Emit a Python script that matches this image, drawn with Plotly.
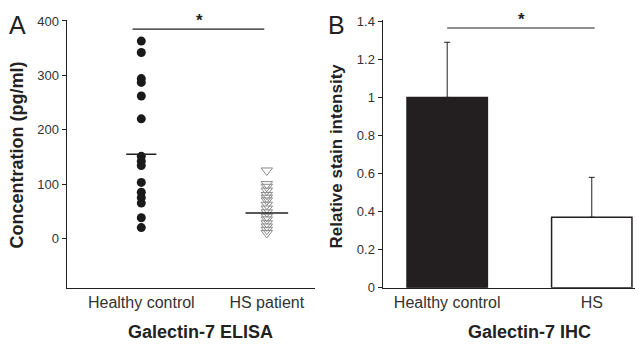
import plotly.graph_objects as go

# ---------------- data ----------------
elisa_groups = ["Healthy control", "HS patient"]
healthy_conc = [363, 342, 294, 287, 262, 220, 151, 142, 134, 103, 85, 75, 65, 38, 20]
hs_conc = [125, 100, 95, 88, 80, 75, 70, 62, 55, 48, 40, 35, 28, 22, 16, 10]
elisa_center_lines = [155, 47]

ihc_groups = ["Healthy control", "HS"]
ihc_values = [1.0, 0.37]
ihc_errors = [0.29, 0.21]

elisa_ticks = [0, 100, 200, 300, 400]
ihc_ticks = [0, 0.2, 0.4, 0.6, 0.8, 1.0, 1.2, 1.4]

W, H = 639, 356
def px(x): return x / W
def py(y): return 1 - y / H

FONT = "Liberation Sans, Arial, sans-serif"
AX = "#231f20"
TXT = "#333333"

fig = go.Figure()

# Panel A scatter
fig.add_trace(go.Scatter(
    x=[elisa_groups[0]] * len(healthy_conc), y=healthy_conc, mode="markers",
    marker=dict(symbol="circle", size=9, color="#1a1a1a", line=dict(width=0)),
    xaxis="x", yaxis="y", showlegend=False))
fig.add_trace(go.Scatter(
    x=[elisa_groups[1]] * len(hs_conc), y=hs_conc, mode="markers",
    marker=dict(symbol="triangle-down-open", size=10, color="#8a8a8a", line=dict(width=1)),
    xaxis="x", yaxis="y", showlegend=False))

# center lines
half = [0.12, 0.17]
for i, v in enumerate(elisa_center_lines):
    fig.add_shape(type="line", xref="x", yref="y", x0=i - half[i], x1=i + half[i],
                  y0=v, y1=v, line=dict(color=AX, width=1.5))

# Panel B bars
fig.add_trace(go.Bar(
    x=ihc_groups, y=ihc_values, width=0.556,
    marker=dict(color=["#231f20", "#ffffff"], line=dict(color=AX, width=1.5)),
    error_y=dict(type="data", array=ihc_errors, arrayminus=[0, 0], symmetric=False,
                 color=AX, thickness=1, width=3),
    xaxis="x2", yaxis="y2", showlegend=False))

# significance bars
fig.add_shape(type="line", xref="x", yref="y", x0=-0.07, x1=0.98, y0=385, y1=385,
              line=dict(color=AX, width=1.2))
fig.add_shape(type="line", xref="x2", yref="y2", x0=0, x1=1.02, y0=1.365, y1=1.365,
              line=dict(color=AX, width=1.2))

axis_common = dict(showgrid=False, zeroline=False, showline=True, linecolor=AX, linewidth=1.5,
                   tickfont=dict(family=FONT, size=13, color=TXT))

fig.update_layout(
    autosize=True, margin=dict(l=0, r=0, t=0, b=0),
    plot_bgcolor="white", paper_bgcolor="white",
    font=dict(family=FONT, color=TXT),
    xaxis=dict(domain=[px(67), px(315)], type="category", categoryarray=elisa_groups,
               range=[-0.592, 1.384], ticks="", anchor="y",
               **{**axis_common, "tickfont": dict(family=FONT, size=16, color=TXT)}),
    yaxis=dict(domain=[py(293), py(14)], range=[-90.5, 401], tickvals=elisa_ticks,
               ticks="outside", ticklen=4, tickcolor=AX, anchor="x", **axis_common),
    xaxis2=dict(domain=[px(383), px(635)], type="category", categoryarray=ihc_groups,
                range=[-0.444, 1.299], ticks="", anchor="y2",
                **{**axis_common, "tickfont": dict(family=FONT, size=16, color=TXT)}),
    yaxis2=dict(domain=[py(293), py(14)], range=[0, 1.405], tickvals=ihc_ticks,
                ticks="outside", ticklen=4, tickcolor=AX, anchor="x2", **axis_common),
)

ann = [
    dict(text="A", x=px(17), y=py(19), size=25, bold=False),
    dict(text="B", x=px(337), y=py(19), size=25, bold=False),
    dict(text="*", x=px(199), y=py(14), size=17, bold=True),
    dict(text="*", x=px(521), y=py(13), size=17, bold=True),
    dict(text="Galectin-7 ELISA", x=px(200), y=py(339), size=18, bold=True),
    dict(text="Galectin-7 IHC", x=px(529), y=py(339), size=18, bold=True),
]
for a in ann:
    t = f"<b>{a['text']}</b>" if a["bold"] else a["text"]
    fig.add_annotation(text=t, x=a["x"], y=a["y"], xref="paper", yref="paper",
                       showarrow=False, xanchor="center", yanchor="middle",
                       font=dict(family=FONT, size=a["size"], color="#222222"))

fig.add_annotation(text="<b>Concentration (pg/ml)</b>", x=px(17), y=py(155), xref="paper", yref="paper",
                   showarrow=False, textangle=-90, xanchor="center", yanchor="middle",
                   font=dict(family=FONT, size=18, color="#222222"))
fig.add_annotation(text="<b>Relative stain intensity</b>", x=px(336), y=py(156), xref="paper", yref="paper",
                   showarrow=False, textangle=-90, xanchor="center", yanchor="middle",
                   font=dict(family=FONT, size=17, color="#222222"))

fig.write_html("out.html", config={"displayModeBar": False, "staticPlot": True, "responsive": True},
               default_width="100vw", default_height="100vh",
               post_script="document.body.style.margin='0';document.body.style.overflow='hidden';")
